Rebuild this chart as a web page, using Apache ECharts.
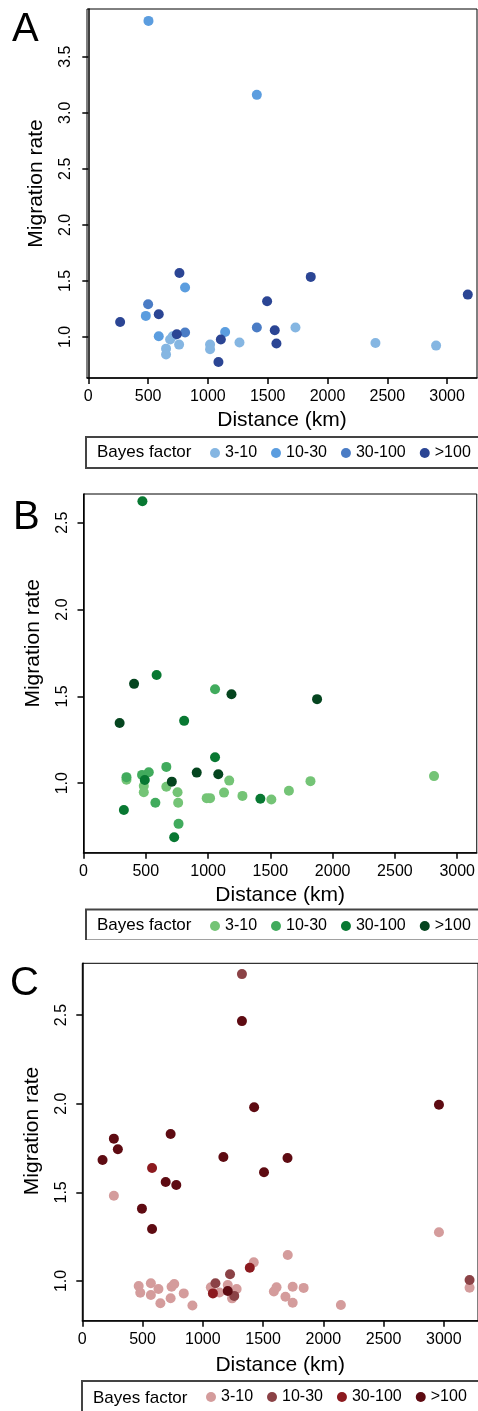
<!doctype html>
<html lang="en">
<head>
    <meta charset="UTF-8">
    <script src="https://cdn.jsdelivr.net/npm/echarts@6/dist/echarts.min.js"></script>
    <title>Migration rate vs distance</title>
    <style>
        body { margin: 0; background: #fff; }
        .panel { position: absolute; left: 0; width: 478px; }
    </style>
</head>
<body>
<div id="panel-a" class="panel" style="top:0;height:470px;"></div>
<div id="panel-b" class="panel" style="top:470px;height:470px;"></div>
<div id="panel-c" class="panel" style="top:940px;height:471px;"></div>
<script>
    // tick labels
    var xTicks = [0, 500, 1000, 1500, 2000, 2500, 3000];
    var yTicksA = [1.0, 1.5, 2.0, 2.5, 3.0, 3.5];
    var yTicksBC = [1.0, 1.5, 2.0, 2.5];
    var bayesClasses = ['3-10', '10-30', '30-100', '>100'];

    // colours per Bayes factor class
    var blues = ['#85b6e2', '#5b9ddf', '#4a7cc5', '#2b4594'];
    var greens = ['#74c476', '#41ab5d', '#087832', '#05451f'];
    var reds = ['#d49c9c', '#8b4246', '#8c1a1f', '#5e0b12'];

    // panel A: [distance km, migration rate]
    var a3to10 = [[650, 0.896], [650, 0.843], [684, 0.977], [706, 1.006], [759, 0.932], [1018, 0.932],
        [1018, 0.89], [1264, 0.95], [1732, 1.084], [2401, 0.946], [2908, 0.923]];
    var a10to30 = [[503, 3.82], [1409, 3.16], [481, 1.188], [589, 1.006], [809, 1.441], [1144, 1.045]];
    var a30to100 = [[500, 1.292], [809, 1.04], [1409, 1.084]];
    var aOver100 = [[266, 1.134], [589, 1.203], [740, 1.024], [762, 1.571], [1108, 0.977], [1088, 0.777],
        [1495, 1.319], [1559, 1.06], [1573, 0.941], [1860, 1.536], [3173, 1.378]];

    // panel B
    var b3to10 = [[345, 1.02], [484, 0.984], [484, 0.948], [665, 0.98], [755, 0.948], [760, 0.888],
        [989, 0.914], [1016, 0.914], [1128, 0.946], [1170, 1.015], [1276, 0.927], [1508, 0.906],
        [1649, 0.957], [1822, 1.012], [2814, 1.041]];
    var b10to30 = [[345, 1.035], [470, 1.048], [524, 1.063], [577, 0.888], [665, 1.094], [763, 0.766],
        [1056, 1.541]];
    var b30to100 = [[473, 2.623], [587, 1.623], [808, 1.359], [1056, 1.15], [492, 1.019], [324, 0.846],
        [728, 0.689], [1420, 0.911]];
    var bOver100 = [[406, 1.572], [1188, 1.512], [1875, 1.484], [290, 1.347], [909, 1.061], [1082, 1.052],
        [709, 1.009]];

    // panel C
    var c3to10 = [[262, 1.481], [468, 0.972], [481, 0.934], [569, 0.987], [569, 0.921], [632, 0.955],
        [648, 0.874], [733, 0.903], [741, 0.968], [763, 0.983], [842, 0.93], [914, 0.862], [1067, 0.964],
        [1138, 0.935], [1207, 0.977], [1243, 0.902], [1281, 0.955], [1423, 1.105], [1590, 0.941],
        [1612, 0.964], [1686, 0.911], [1705, 1.147], [1746, 0.877], [1746, 0.967], [1837, 0.961],
        [2146, 0.865], [2960, 1.275], [3214, 0.962]];
    var c10to30 = [[1325, 2.731], [1105, 0.987], [1226, 1.038], [1261, 0.916], [3214, 1.006]];
    var c30to100 = [[579, 1.637], [1390, 1.075], [1084, 0.93]];
    var cOver100 = [[1325, 2.466], [1426, 1.98], [2960, 1.994], [262, 1.803], [295, 1.743], [168, 1.682],
        [733, 1.829], [1171, 1.699], [1703, 1.694], [1508, 1.613], [692, 1.558], [780, 1.541],
        [495, 1.408], [579, 1.293], [1207, 0.944]];

    var font = 'Liberation Sans, Arial, sans-serif';

    function makeOption(p) {
        var series = p.groups.map(function (d, i) {
            return {
                name: bayesClasses[i],
                type: 'scatter',
                data: d,
                symbolSize: 10,
                itemStyle: {color: p.colors[i], opacity: 1},
                emphasis: {disabled: true}
            };
        });
        return {
            animation: false,
            textStyle: {fontFamily: font},
            grid: {
                left: p.grid[0], top: p.grid[1], width: p.grid[2], height: p.grid[3],
                show: true, borderColor: '#000', borderWidth: 1
            },
            xAxis: {
                type: 'value',
                min: p.xRange[0], max: p.xRange[1],
                axisLine: {show: true, lineStyle: {color: '#000', width: 1.5}},
                axisTick: {show: true, length: 6, customValues: xTicks, lineStyle: {color: '#000', width: 1.5}},
                axisLabel: {
                    customValues: xTicks, color: '#000', fontSize: 16, margin: 11, fontFamily: font,
                    formatter: function (v) { return String(v); }
                },
                splitLine: {show: false},
                name: 'Distance (km)',
                nameLocation: 'middle',
                nameGap: p.xNameGap,
                nameTextStyle: {fontSize: 21, color: '#000', fontFamily: font}
            },
            yAxis: {
                type: 'value',
                min: p.yRange[0], max: p.yRange[1],
                axisLine: {show: true, lineStyle: {color: '#000', width: 1.5}},
                axisTick: {show: true, length: 6, customValues: p.yTicks, lineStyle: {color: '#000', width: 1.5}},
                axisLabel: {
                    customValues: p.yTicks, rotate: 90, color: '#000', fontSize: 16, margin: 13,
                    fontFamily: font,
                    formatter: function (v) { return v.toFixed(1); }
                },
                splitLine: {show: false},
                name: 'Migration rate',
                nameLocation: 'middle',
                nameRotate: 90,
                nameGap: 40,
                nameTextStyle: {fontSize: 21, color: '#000', fontFamily: font, padding: p.yNamePad}
            },
            legend: {
                data: bayesClasses,
                left: p.legendLeft,
                top: p.legendTop,
                padding: 0,
                icon: 'circle',
                itemWidth: 10,
                itemHeight: 10,
                itemGap: 14,
                selectedMode: false,
                textStyle: {fontSize: 16, color: '#000', fontFamily: font}
            },
            graphic: [
                {
                    type: 'text', left: p.letter[0], top: p.letter[1],
                    style: {text: p.letter[2], fontSize: 40, fill: '#000', fontFamily: font}
                },
                {
                    type: 'rect',
                    shape: {x: p.box[0], y: p.box[1], width: 500, height: p.box[2]},
                    style: {fill: 'none', stroke: '#444', lineWidth: 2}
                },
                {
                    type: 'text', x: p.box[0] + 11, y: p.box[1] + p.box[2] / 2,
                    style: {text: 'Bayes factor', fontSize: 17, fill: '#000', fontFamily: font,
                        verticalAlign: 'middle'}
                }
            ],
            series: series
        };
    }

    echarts.init(document.getElementById('panel-a')).setOption(makeOption({
        groups: [a3to10, a10to30, a30to100, aOver100],
        colors: blues,
        grid: [87, 9, 390, 369],
        xRange: [-11, 3250],
        yRange: [0.634, 3.926],
        yTicks: yTicksA,
        xNameGap: 29,
        yNamePad: [0, 0, 0, 20],
        legendLeft: 210,
        legendTop: 445,
        letter: [12, 10, 'A'],
        box: [86, 437, 31]
    }));

    echarts.init(document.getElementById('panel-b')).setOption(makeOption({
        groups: [b3to10, b10to30, b30to100, bOver100],
        colors: greens,
        grid: [83.5, 24, 396, 358.7],
        xRange: [0, 3157],
        yRange: [0.6, 2.665],
        yTicks: yTicksBC,
        xNameGap: 29,
        yNamePad: [0, 0, 0, 60],
        legendLeft: 210,
        legendTop: 448,
        letter: [13, 28, 'B'],
        box: [86, 439.5, 31]
    }));

    echarts.init(document.getElementById('panel-c')).setOption(makeOption({
        groups: [c3to10, c10to30, c30to100, cOver100],
        colors: reds,
        grid: [82.3, 23.3, 397, 357.4],
        xRange: [0, 3284],
        yRange: [0.776, 2.792],
        yTicks: yTicksBC,
        xNameGap: 34,
        yNamePad: [0, 0, 0, 22],
        legendLeft: 206,
        legendTop: 449,
        letter: [10, 24, 'C'],
        box: [82, 441, 34]
    }));
</script>
</body>
</html>
